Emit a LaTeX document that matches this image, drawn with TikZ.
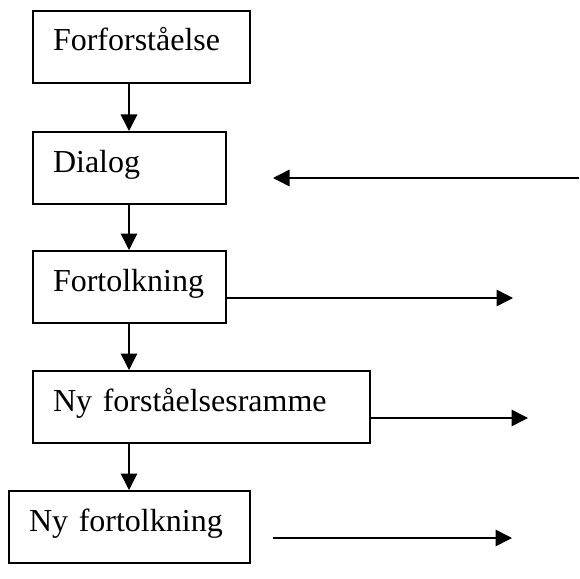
\documentclass[tikz,border=0pt]{standalone}
\usepackage{fontspec}
\setmainfont{Liberation Serif}
\usetikzlibrary{arrows.meta}

\begin{document}
\begin{tikzpicture}[x=0.4pt,y=-0.4pt,
    every node/.style={draw,line width=0.8pt,anchor=north west,align=left,
      inner xsep=8pt,inner ysep=0pt,text height=16pt,text depth=12.8pt,
      font=\fontsize{12.8}{15}\selectfont},
    pil/.style={line width=0.6pt,-{Triangle[length=6.6pt,width=6.6pt]}}]
  \useasboundingbox (0,0) rectangle (579,579);

  \node[text width=70.8pt]  (forf)   at (32,10)  {Forforståelse};
  \node[text width=61.2pt]  (dialog) at (32,131) {Dialog};
  \node[text width=61.2pt]  (fort)   at (32,250) {Fortolkning};
  \node[text width=118.8pt] (ramme)  at (32,370) {Ny forståelsesramme};
  \node[text width=80.4pt]  (nyfort) at (8,490)  {Ny fortolkning};

  \coordinate (midt) at (129,0);
  \foreach \a/\b in {forf/dialog,dialog/fort,fort/ramme,ramme/nyfort}
    \draw[pil] (\a.south -| midt) -- (\b.north -| midt);

  % piler til siden
  \coordinate (dialogStart) at (579,178);
  \coordinate (dialogTip) at (273,178);
  \draw[pil] (dialogStart) -- (dialogTip);
  \coordinate (fortTip) at (513,298);
  \draw[pil] (fort.east |- fortTip) -- (fortTip);
  \coordinate (rammeTip) at (528,418);
  \draw[pil] (ramme.east |- rammeTip) -- (rammeTip);
  \coordinate (nyStart) at (273,538);
  \coordinate (nyTip) at (512,538);
  \draw[pil] (nyStart) -- (nyTip);
\end{tikzpicture}
\end{document}
